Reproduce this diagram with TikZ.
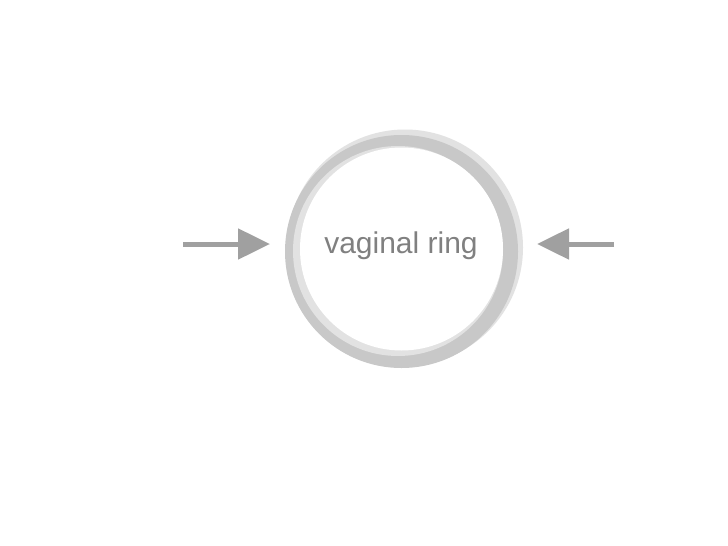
\documentclass[tikz,border=0pt]{standalone}
\usepackage{fontspec}
\setmainfont{Liberation Sans}
\usetikzlibrary{arrows.meta}
\definecolor{ringdark}{HTML}{C8C8C8}
\definecolor{ringlight}{HTML}{E2E2E2}
\definecolor{arrowgray}{HTML}{A0A0A0}
\definecolor{textgray}{HTML}{808080}
\tikzset{
  pointer/.style={draw=arrowgray, line width=5pt, -{Triangle[length=32pt,width=30pt]}},
  label/.style={text=textgray, font=\fontsize{30}{33}\selectfont, inner sep=0pt}
}
\begin{document}
\begin{tikzpicture}[x=1pt,y=-1pt]
\useasboundingbox[fill=white] (0,0) rectangle (728,546);
% ring
\fill[ringlight] (405,247.5) circle (118);
\fill[ringdark] (401.5,251.5) circle (116.5);
\fill[ringlight] (398,251) circle (105);
\fill[white] (401.5,249) circle (101.5);
\node[label] (ring) at (401,245.5) {vaginal ring};
\coordinate (ringL) at (270,244);
\coordinate (ringR) at (537,244);
\coordinate (startL) at (183,244);
\coordinate (startR) at (614,244);
\draw[pointer] (startL) -- (ringL);
\draw[pointer] (startR) -- (ringR);
\end{tikzpicture}
\end{document}
